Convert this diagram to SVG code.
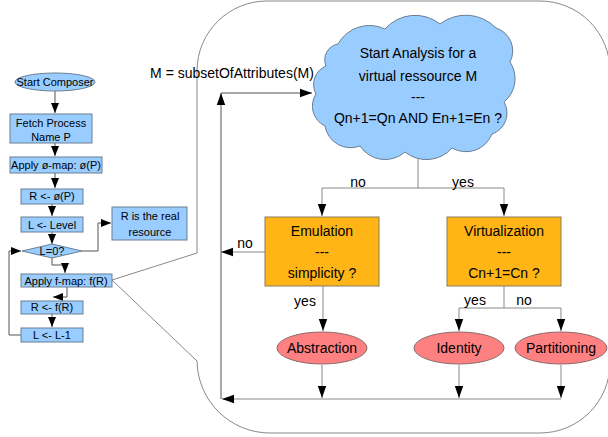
<svg xmlns="http://www.w3.org/2000/svg" width="608" height="437" viewBox="0 0 608 437">
<style>
text{font-family:"Liberation Sans",Arial,sans-serif;fill:#000;text-anchor:middle}
.s{font-size:11px}
.l{font-size:14px}
.blue{fill:#99ccff;stroke:#6a7f94;stroke-width:1}
.org{fill:#ffb515;stroke:#8a7a5a;stroke-width:1}
.red{fill:#ff8080;stroke:#8a6a6a;stroke-width:1}
.c{fill:none;stroke:#555;stroke-width:1}
.g{fill:none;stroke:#888;stroke-width:1}
</style>
<defs>
<marker id="a" viewBox="0 0 10 10" refX="10" refY="5" markerWidth="10" markerHeight="10" markerUnits="userSpaceOnUse" orient="auto">
<path d="M0,1 L10,5 L0,9 Z" fill="#000"/>
</marker>
<marker id="b" viewBox="0 0 10 10" refX="10" refY="5" markerWidth="12" markerHeight="12" markerUnits="userSpaceOnUse" orient="auto">
<path d="M0,1.5 L10,5 L0,8.5 Z" fill="#000"/>
</marker>
</defs>

<g id="callout">
<path class="g" d="M197,253 V70 A70,70 0 0 1 267,1 H540 A70,70 0 0 1 610,71 V363 A70,70 0 0 1 540,433 H270 A73,73 0 0 1 197,361 L112,280 Z"/>
</g>

<g id="connectors">
<path class="c" d="M55,91 V113" marker-end="url(#a)"/>
<path class="c" d="M55,143 V156" marker-end="url(#a)"/>
<path class="c" d="M55,173 V188" marker-end="url(#a)"/>
<path class="c" d="M52,204 V216" marker-end="url(#a)"/>
<path class="c" d="M52,232 V244" marker-end="url(#a)"/>
<path class="c" d="M82,251 H98 V223 H111" marker-end="url(#a)"/>
<path class="c" d="M52,258 V265 H65 V273" marker-end="url(#a)"/>
<path class="c" d="M67,287 V297 H53" marker-end="url(#a)"/>
<path class="c" d="M52,313 V327" marker-end="url(#a)"/>
<path class="c" d="M21,335 H9 V251 H21" marker-end="url(#a)"/>

<path class="c" d="M221,399 V93" marker-end="url(#b)"/>
<path class="c" d="M221,93 H312" marker-end="url(#b)"/>
<path class="g" d="M418,158 V188"/>
<path class="g" d="M418,188 H322 V216" marker-end="url(#b)"/>
<path class="g" d="M418,188 H504 V216" marker-end="url(#b)"/>
<path class="g" d="M265,252 H221" marker-end="url(#b)"/>
<path class="g" d="M323,286 V331" marker-end="url(#b)"/>
<path class="g" d="M504,286 V308"/>
<path class="g" d="M504,308 H459 V331" marker-end="url(#b)"/>
<path class="g" d="M504,308 H561 V331" marker-end="url(#b)"/>
<path class="g" d="M322,365 V398" marker-end="url(#b)"/>
<path class="g" d="M459,365 V398" marker-end="url(#b)"/>
<path class="g" d="M561,365 V398" marker-end="url(#b)"/>
<path class="g" d="M561,399 H222" marker-end="url(#b)"/>

<text class="l" x="358" y="187">no</text>
<text class="l" x="463" y="187">yes</text>
<text class="l" x="245" y="248">no</text>
<text class="l" x="305" y="306">yes</text>
<text class="l" x="475" y="305">yes</text>
<text class="l" x="524" y="305">no</text>
</g>

<g id="start"><ellipse class="blue" cx="55" cy="82" rx="40" ry="9"/><text class="s" x="55" y="86">Start Composer</text></g>
<g id="fetch"><rect class="blue" x="10" y="114" width="82" height="29"/><text class="s" x="51" y="127">Fetch Process</text><text class="s" x="51" y="141">Name P</text></g>
<g id="phimap"><rect class="blue" x="10" y="157" width="92" height="16"/><text class="s" x="56" y="169">Apply ø-map: ø(P)</text></g>
<g id="rphi"><rect class="blue" x="21" y="189" width="62" height="15"/><text class="s" x="52" y="200">R &lt;- ø(P)</text></g>
<g id="level"><rect class="blue" x="21" y="217" width="62" height="15"/><text class="s" x="52" y="229">L &lt;- Level</text></g>
<g id="l0"><path class="blue" d="M22,251 L52,244 L82,251 L52,258 Z"/><text class="s" x="52" y="255">L=0?</text></g>
<g id="real"><rect class="blue" x="112" y="207" width="75" height="33"/><text class="s" x="150" y="220">R is the real</text><text class="s" x="150" y="236">resource</text></g>
<g id="fmap"><rect class="blue" x="21" y="274" width="91" height="13"/><text class="s" x="66" y="285">Apply f-map: f(R)</text></g>
<g id="rf"><rect class="blue" x="21" y="301" width="62" height="13"/><text class="s" x="52" y="311">R &lt;- f(R)</text></g>
<g id="ldec"><rect class="blue" x="21" y="328" width="62" height="14"/><text class="s" x="52" y="339">L &lt;- L-1</text></g>

<g id="cloud">
<path class="blue" d="M338,44 A36,36 0 0 1 385,29 A40,40 0 0 1 440,24 A42,42 0 0 1 496,28 A24,24 0 0 1 510,62 A30,30 0 0 1 504,102 A22,22 0 0 1 492,134 A28,28 0 0 1 452,148 A34,34 0 0 1 405,152 A30,30 0 0 1 360,146 A26,26 0 0 1 325,126 A22,22 0 0 1 316,94 A20,20 0 0 1 326,66 A16,16 0 0 1 338,44 Z"/>
<text class="l" x="418" y="58">Start Analysis for a</text>
<text class="l" x="418" y="81">virtual ressource M</text>
<text class="l" x="418" y="102">---</text>
<text class="l" x="418" y="123">Qn+1=Qn AND En+1=En ?</text>
</g>

<g id="emulation"><rect class="org" x="265" y="217" width="114" height="69"/><text class="l" x="322" y="236">Emulation</text><text class="l" x="322" y="257">---</text><text class="l" x="322" y="278">simplicity ?</text></g>
<g id="virtualization"><rect class="org" x="447" y="217" width="114" height="69"/><text class="l" x="504" y="236">Virtualization</text><text class="l" x="504" y="257">---</text><text class="l" x="504" y="278">Cn+1=Cn ?</text></g>
<g id="abstraction"><ellipse class="red" cx="322" cy="348" rx="45" ry="16"/><text class="l" x="322" y="353">Abstraction</text></g>
<g id="identity"><ellipse class="red" cx="459" cy="348" rx="45" ry="16"/><text class="l" x="459" y="353">Identity</text></g>
<g id="partitioning"><ellipse class="red" cx="561" cy="348" rx="46" ry="16"/><text class="l" x="561" y="353">Partitioning</text></g>

<g id="label"><text class="l" x="232" y="78">M = subsetOfAttributes(M)</text></g>
</svg>
